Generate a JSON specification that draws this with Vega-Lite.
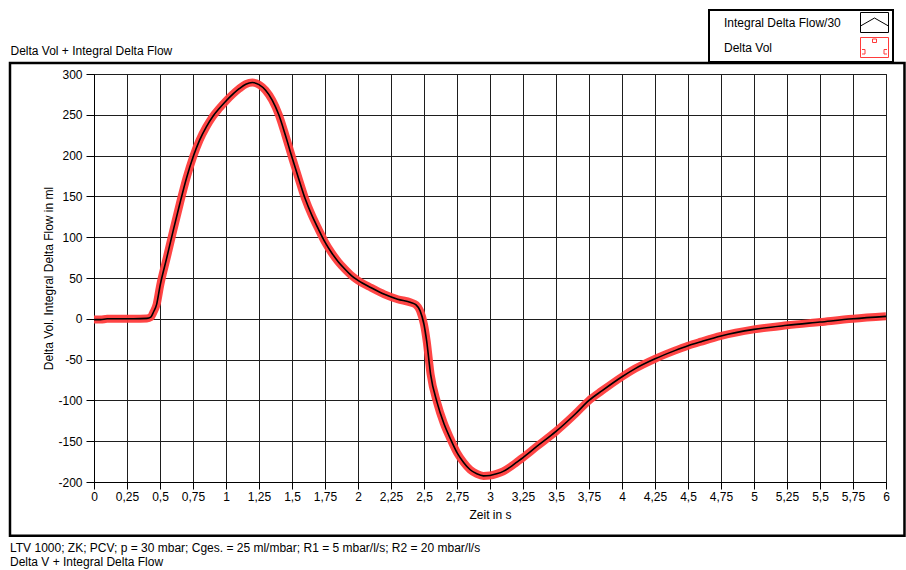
{
  "$schema": "https://vega.github.io/schema/vega-lite/v6.json",
  "width": 792,
  "height": 408,
  "autosize": {"type": "none"},
  "padding": {"left": 94, "top": 74, "right": 20, "bottom": 88},
  "background": "white",
  "config": {
    "font": "Liberation Sans",
    "view": {"stroke": "#222222", "strokeWidth": 1},
    "axis": {"labelFontSize": 12, "labelColor": "#000000", "titleFontSize": 12, "titleFontWeight": "normal", "titleColor": "#000000", "tickColor": "#000000", "domainColor": "#000000", "gridColor": "#1e1e1e", "gridOpacity": 1, "gridWidth": 1, "labelFont": "Liberation Sans", "titleFont": "Liberation Sans"}
  },
  "title": {
    "text": ["LTV 1000; ZK; PCV; p = 30 mbar; Cges. = 25 ml/mbar; R1 = 5 mbar/l/s; R2 = 20 mbar/l/s", "Delta V + Integral Delta Flow"],
    "orient": "bottom",
    "anchor": "start",
    "frame": "group",
    "dx": -84,
    "offset": 6,
    "baseline": "top",
    "fontSize": 12,
    "fontWeight": "normal",
    "lineHeight": 14,
    "color": "#000000",
    "font": "Liberation Sans"
  },
  "datasets": {
    "curve": [
      {"t": 0, "Delta Vol": -1, "Integral Delta Flow/30": -1},
      {"t": 0.05, "Delta Vol": -1, "Integral Delta Flow/30": -1},
      {"t": 0.1, "Delta Vol": 0, "Integral Delta Flow/30": 0},
      {"t": 0.2, "Delta Vol": 0, "Integral Delta Flow/30": 0},
      {"t": 0.3, "Delta Vol": 0, "Integral Delta Flow/30": 0},
      {"t": 0.4, "Delta Vol": 0.5, "Integral Delta Flow/30": 0.5},
      {"t": 0.43, "Delta Vol": 2, "Integral Delta Flow/30": 2},
      {"t": 0.45, "Delta Vol": 8, "Integral Delta Flow/30": 8},
      {"t": 0.475, "Delta Vol": 18, "Integral Delta Flow/30": 18},
      {"t": 0.5, "Delta Vol": 40, "Integral Delta Flow/30": 40},
      {"t": 0.55, "Delta Vol": 74, "Integral Delta Flow/30": 74},
      {"t": 0.6, "Delta Vol": 108, "Integral Delta Flow/30": 108},
      {"t": 0.65, "Delta Vol": 141, "Integral Delta Flow/30": 141},
      {"t": 0.7, "Delta Vol": 172, "Integral Delta Flow/30": 172},
      {"t": 0.75, "Delta Vol": 198, "Integral Delta Flow/30": 198},
      {"t": 0.8, "Delta Vol": 219, "Integral Delta Flow/30": 219},
      {"t": 0.85, "Delta Vol": 235, "Integral Delta Flow/30": 235},
      {"t": 0.9, "Delta Vol": 248, "Integral Delta Flow/30": 248},
      {"t": 0.95, "Delta Vol": 258, "Integral Delta Flow/30": 258},
      {"t": 1.0, "Delta Vol": 267, "Integral Delta Flow/30": 267},
      {"t": 1.05, "Delta Vol": 275, "Integral Delta Flow/30": 275},
      {"t": 1.1, "Delta Vol": 282, "Integral Delta Flow/30": 282},
      {"t": 1.15, "Delta Vol": 287.5, "Integral Delta Flow/30": 287.5},
      {"t": 1.2, "Delta Vol": 289.5, "Integral Delta Flow/30": 289.5},
      {"t": 1.25, "Delta Vol": 287, "Integral Delta Flow/30": 287},
      {"t": 1.3, "Delta Vol": 280, "Integral Delta Flow/30": 280},
      {"t": 1.35, "Delta Vol": 268, "Integral Delta Flow/30": 268},
      {"t": 1.4, "Delta Vol": 250, "Integral Delta Flow/30": 250},
      {"t": 1.45, "Delta Vol": 225, "Integral Delta Flow/30": 225},
      {"t": 1.5, "Delta Vol": 198, "Integral Delta Flow/30": 198},
      {"t": 1.55, "Delta Vol": 172, "Integral Delta Flow/30": 172},
      {"t": 1.6, "Delta Vol": 147, "Integral Delta Flow/30": 147},
      {"t": 1.65, "Delta Vol": 127, "Integral Delta Flow/30": 127},
      {"t": 1.7, "Delta Vol": 110, "Integral Delta Flow/30": 110},
      {"t": 1.75, "Delta Vol": 94, "Integral Delta Flow/30": 94},
      {"t": 1.8, "Delta Vol": 81, "Integral Delta Flow/30": 81},
      {"t": 1.85, "Delta Vol": 70, "Integral Delta Flow/30": 70},
      {"t": 1.9, "Delta Vol": 61, "Integral Delta Flow/30": 61},
      {"t": 1.95, "Delta Vol": 53, "Integral Delta Flow/30": 53},
      {"t": 2.0, "Delta Vol": 47, "Integral Delta Flow/30": 47},
      {"t": 2.1, "Delta Vol": 38, "Integral Delta Flow/30": 38},
      {"t": 2.2, "Delta Vol": 30, "Integral Delta Flow/30": 30},
      {"t": 2.3, "Delta Vol": 24, "Integral Delta Flow/30": 24},
      {"t": 2.4, "Delta Vol": 20, "Integral Delta Flow/30": 20},
      {"t": 2.44, "Delta Vol": 17, "Integral Delta Flow/30": 17},
      {"t": 2.47, "Delta Vol": 10, "Integral Delta Flow/30": 10},
      {"t": 2.5, "Delta Vol": -7, "Integral Delta Flow/30": -7},
      {"t": 2.52, "Delta Vol": -27, "Integral Delta Flow/30": -27},
      {"t": 2.55, "Delta Vol": -68, "Integral Delta Flow/30": -68},
      {"t": 2.6, "Delta Vol": -103, "Integral Delta Flow/30": -103},
      {"t": 2.65, "Delta Vol": -128, "Integral Delta Flow/30": -128},
      {"t": 2.7, "Delta Vol": -147, "Integral Delta Flow/30": -147},
      {"t": 2.75, "Delta Vol": -164, "Integral Delta Flow/30": -164},
      {"t": 2.8, "Delta Vol": -176, "Integral Delta Flow/30": -176},
      {"t": 2.85, "Delta Vol": -185, "Integral Delta Flow/30": -185},
      {"t": 2.9, "Delta Vol": -190, "Integral Delta Flow/30": -190},
      {"t": 2.95, "Delta Vol": -192.5, "Integral Delta Flow/30": -192.5},
      {"t": 3.0, "Delta Vol": -192, "Integral Delta Flow/30": -192},
      {"t": 3.05, "Delta Vol": -190, "Integral Delta Flow/30": -190},
      {"t": 3.1, "Delta Vol": -187, "Integral Delta Flow/30": -187},
      {"t": 3.15, "Delta Vol": -182, "Integral Delta Flow/30": -182},
      {"t": 3.2, "Delta Vol": -176, "Integral Delta Flow/30": -176},
      {"t": 3.25, "Delta Vol": -170, "Integral Delta Flow/30": -170},
      {"t": 3.35, "Delta Vol": -157, "Integral Delta Flow/30": -157},
      {"t": 3.5, "Delta Vol": -138, "Integral Delta Flow/30": -138},
      {"t": 3.65, "Delta Vol": -116, "Integral Delta Flow/30": -116},
      {"t": 3.75, "Delta Vol": -100, "Integral Delta Flow/30": -100},
      {"t": 3.85, "Delta Vol": -88, "Integral Delta Flow/30": -88},
      {"t": 4.0, "Delta Vol": -71, "Integral Delta Flow/30": -71},
      {"t": 4.1, "Delta Vol": -61, "Integral Delta Flow/30": -61},
      {"t": 4.25, "Delta Vol": -49, "Integral Delta Flow/30": -49},
      {"t": 4.4, "Delta Vol": -39, "Integral Delta Flow/30": -39},
      {"t": 4.5, "Delta Vol": -33, "Integral Delta Flow/30": -33},
      {"t": 4.6, "Delta Vol": -28, "Integral Delta Flow/30": -28},
      {"t": 4.75, "Delta Vol": -21, "Integral Delta Flow/30": -21},
      {"t": 5.0, "Delta Vol": -13, "Integral Delta Flow/30": -13},
      {"t": 5.25, "Delta Vol": -8, "Integral Delta Flow/30": -8},
      {"t": 5.5, "Delta Vol": -4, "Integral Delta Flow/30": -4},
      {"t": 5.75, "Delta Vol": 0, "Integral Delta Flow/30": 0},
      {"t": 6.0, "Delta Vol": 3, "Integral Delta Flow/30": 3}
    ]
  },
  "resolve": {"axis": {"x": "independent"}},
  "layer": [
    {
      "data": {"values": [{}]},
      "mark": {"type": "rect", "fill": "transparent", "stroke": "#000000", "strokeWidth": 2.5, "clip": false},
      "encoding": {
        "x": {"datum": -0.6364, "type": "quantitative", "scale": {"domain": [0, 6], "nice": false, "zero": false},
          "axis": {"orient": "top", "title": "Delta Vol + Integral Delta Flow", "labels": false, "ticks": false, "domain": false, "grid": false, "titleX": -84, "titleY": -20, "titleAlign": "left", "titleAnchor": null, "titleBaseline": "alphabetic", "titleAngle": 0}},
        "x2": {"datum": 6.14},
        "y": {"datum": 313.5, "type": "quantitative", "scale": {"domain": [-200, 300], "nice": false, "zero": false},
          "axis": {"title": "Delta Vol. Integral Delta Flow in ml", "values": [-200, -150, -100, -50, 0, 50, 100, 150, 200, 250, 300], "labelExpr": "replace(datum.label, '\u2212', '-')", "tickSize": 8, "labelPadding": 4, "titlePadding": 2, "grid": true, "labelFlush": false, "labelOverlap": false}},
        "y2": {"datum": -266}
      }
    },
    {
      "data": {"name": "curve"},
      "transform": [{"fold": ["Integral Delta Flow/30", "Delta Vol"], "as": ["series", "value"]}],
      "encoding": {
        "x": {"field": "t", "type": "quantitative",
          "axis": {"orient": "bottom", "title": "Zeit in s", "values": [0, 0.25, 0.5, 0.75, 1, 1.25, 1.5, 1.75, 2, 2.25, 2.5, 2.75, 3, 3.25, 3.5, 3.75, 4, 4.25, 4.5, 4.75, 5, 5.25, 5.5, 5.75, 6], "labelExpr": "replace(format(datum.value, '~g'), '.', ',')", "tickSize": 7, "labelPadding": 2, "titlePadding": 7, "grid": true, "labelFlush": false, "labelOverlap": false}},
        "y": {"field": "value", "type": "quantitative", "title": "Delta Vol. Integral Delta Flow in ml",
          "axis": {"title": "Delta Vol. Integral Delta Flow in ml", "values": [-200, -150, -100, -50, 0, 50, 100, 150, 200, 250, 300], "labelExpr": "replace(datum.label, '\u2212', '-')", "tickSize": 8, "labelPadding": 4, "titlePadding": 2, "grid": true, "labelFlush": false, "labelOverlap": false}},
        "color": {"field": "series", "type": "nominal",
          "scale": {"domain": ["Integral Delta Flow/30", "Delta Vol"], "range": ["#000000", "#ff3b3b"]},
          "legend": {"orient": "none", "legendX": 615, "legendY": -64, "title": null, "strokeColor": "#000000", "fillColor": "white", "padding": 2, "rowPadding": 0, "labelFontSize": 12, "labelFont": "Liberation Sans", "labelColor": "#000000", "symbolOffset": 153, "labelOffset": -161, "symbolSize": 400, "symbolStrokeWidth": 1, "symbolType": "square", "labelLimit": 300,
            "encode": {
              "legend": {"update": {"strokeWidth": {"value": 2}}},
              "symbols": {"update": {"shape": {"signal": "datum.value === 'Delta Vol' ? 'M-1.4,-1H1.4V1H-1.4Z M-0.2,-0.85h0.4v0.35h-0.4Z M-1.25,0.2h0.3v0.45h-0.3 M1.25,0.2h-0.3v0.45h0.3' : 'M-1.4,-1H1.4V1H-1.4Z M-1.4,0.35L0,-0.45L1.4,0.35'"}, "fill": {"value": "transparent"}, "strokeWidth": {"value": 1}}}}}
        }
      },
      "layer": [
        {
          "transform": [{"filter": "datum.series === 'Delta Vol'"}],
          "mark": {"type": "line", "strokeWidth": 8, "interpolate": "monotone", "strokeJoin": "round", "strokeCap": "butt", "opacity": 0.95}
        },
        {
          "transform": [{"filter": "datum.series === 'Integral Delta Flow/30'"}],
          "mark": {"type": "line", "strokeWidth": 1.6, "interpolate": "monotone"}
        }
      ]
    }
  ]
}
